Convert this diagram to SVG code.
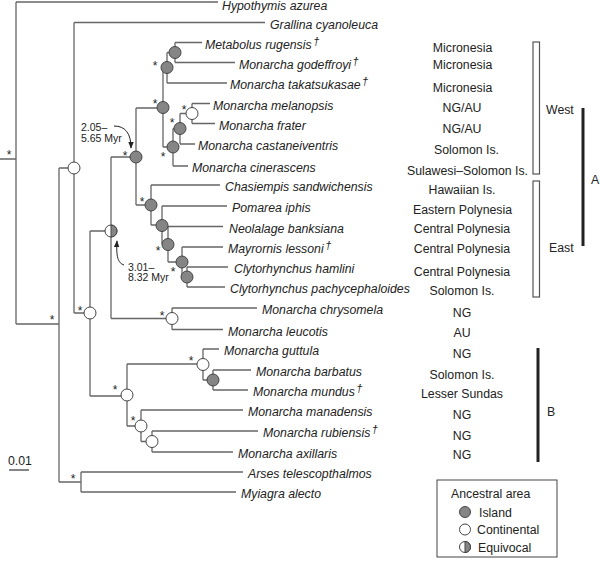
<svg xmlns="http://www.w3.org/2000/svg" width="600" height="561" viewBox="0 0 600 561">
<defs>
<style>
.br{fill:none;stroke:#666;stroke-width:1.3}
.sp{font-family:"Liberation Sans",Arial,sans-serif;font-size:12.3px;font-style:italic;fill:#222}
.rg{font-family:"Liberation Sans",Arial,sans-serif;font-size:12.3px;fill:#222;text-anchor:middle}
.lb{font-family:"Liberation Sans",Arial,sans-serif;font-size:12.3px;fill:#222}
.sm{font-family:"Liberation Sans",Arial,sans-serif;font-size:10.5px;fill:#222}
.st{font-family:"Liberation Sans",Arial,sans-serif;font-size:12px;fill:#222;text-anchor:middle}
.dg{font-size:11px}
.isl{fill:#858585;stroke:#444;stroke-width:1}
.con{fill:#fff;stroke:#444;stroke-width:1}
</style>
<marker id="ah" viewBox="0 0 10 10" refX="9" refY="5" markerWidth="7" markerHeight="7" orient="auto" markerUnits="userSpaceOnUse">
<path d="M0,1 L10,5 L0,9 z" fill="#222"/>
</marker>
</defs>
<rect width="600" height="561" fill="#fff"/>

<g id="connectors" class="br">
<path d="M0,159H16 M16,2V324 M16,2H218 M16,324H59 M59,168V482 M59,168H74 M59,482H81 M81,472V492 M81,472H243 M81,492H236"/>
<path d="M74,22.5V313 M74,22.5H265 M74,313H90 M90,231V396 M90,231H111 M90,396H127"/>
<path d="M111,157V318.5 M111,157H136 M111,318.5H172 M172,308V329.5 M172,308H257 M172,329.5H223"/>
<path d="M136,108V205 M136,108H163 M136,205H151"/>
<path d="M163,67.5V147 M163,67.5H167 M167,52.5V83 M167,52.5H175 M175,42.5V62.5 M175,42.5H202 M175,62.5H235 M167,83H227"/>
<path d="M163,147H173 M173,128.5V166 M173,128.5H180 M173,166H188 M180,113.5V144 M180,113.5H192 M180,144H195 M192,103.5V123.5 M192,103.5H210 M192,123.5H215"/>
<path d="M151,185V225 M151,185H220 M151,225H162 M162,206V244 M162,206H227 M162,244H168 M168,226.5V262 M168,226.5H223 M168,262H182 M182,247V277 M182,247H223 M182,277H187 M187,267V287 M187,267H228 M187,287H225"/>
<path d="M127,364V426 M127,364H203 M127,426H141 M203,349V380 M203,349H219 M203,380H213 M213,370V390 M213,370H251 M213,390H248 M141,410V441.5 M141,410H243 M141,441.5H152 M152,431V452 M152,431H258 M152,452H233"/>
</g>

<g id="nodes">
<g id="n-island-A"><circle class="isl" cx="175" cy="52.5" r="6"/></g>
<g id="n-island-B"><circle class="isl" cx="167" cy="67.5" r="6"/></g>
<g id="n-island-F"><circle class="isl" cx="163" cy="107.5" r="6"/></g>
<g id="n-cont-C"><circle class="con" cx="192" cy="113.5" r="6"/></g>
<g id="n-island-D"><circle class="isl" cx="180" cy="128.5" r="6"/></g>
<g id="n-island-E"><circle class="isl" cx="173" cy="147" r="6"/></g>
<g id="n-island-G"><circle class="isl" cx="136" cy="157" r="6"/></g>
<g id="n-island-H"><circle class="isl" cx="151" cy="205" r="6"/></g>
<g id="n-island-I"><circle class="isl" cx="162" cy="225.5" r="6"/></g>
<g id="n-island-J"><circle class="isl" cx="168" cy="244.5" r="6"/></g>
<g id="n-island-K"><circle class="isl" cx="182" cy="262" r="6"/></g>
<g id="n-island-L"><circle class="isl" cx="187" cy="277" r="6"/></g>
<g id="n-cont-74"><circle class="con" cx="74" cy="168" r="6"/></g>
<g id="n-cont-90"><circle class="con" cx="90" cy="313" r="6"/></g>
<g id="n-equiv"><circle class="con" cx="111" cy="231" r="6"/><path d="M111,225 A6,6 0 0 1 111,237 Z" fill="#858585" stroke="#444" stroke-width="1"/></g>
<g id="n-cont-chry"><circle class="con" cx="172" cy="318.5" r="6"/></g>
<g id="n-cont-M"><circle class="con" cx="127" cy="395" r="6"/></g>
<g id="n-cont-N"><circle class="con" cx="203" cy="364.5" r="6"/></g>
<g id="n-island-P"><circle class="isl" cx="213" cy="380" r="6"/></g>
<g id="n-cont-O"><circle class="con" cx="141" cy="426" r="6"/></g>
<g id="n-cont-Q"><circle class="con" cx="152" cy="441.5" r="6"/></g>
</g>

<g id="support">
<text class="st" x="9" y="159">*</text>
<text class="st" x="52" y="324">*</text>
<text class="st" x="80" y="315">*</text>
<text class="st" x="125" y="160">*</text>
<text class="st" x="155" y="70">*</text>
<text class="st" x="155" y="108">*</text>
<text class="st" x="184" y="114">*</text>
<text class="st" x="172" y="127">*</text>
<text class="st" x="163" y="161">*</text>
<text class="st" x="142" y="206">*</text>
<text class="st" x="158" y="255">*</text>
<text class="st" x="173" y="276">*</text>
<text class="st" x="162" y="320">*</text>
<text class="st" x="191" y="365">*</text>
<text class="st" x="115" y="394">*</text>
<text class="st" x="133" y="425">*</text>
<text class="st" x="73" y="483">*</text>
</g>

<g id="taxa">
<text class="sp" x="222" y="9.5">Hypothymis azurea</text>
<text class="sp" x="270" y="28.5">Grallina cyanoleuca</text>
<text class="sp" x="205" y="48.5">Metabolus rugensis<tspan class="dg" dx="1.5" dy="-4">†</tspan></text>
<text class="sp" x="239" y="68.5">Monarcha godeffroyi<tspan class="dg" dx="1.5" dy="-4">†</tspan></text>
<text class="sp" x="230" y="89">Monarcha takatsukasae<tspan class="dg" dx="1.5" dy="-4">†</tspan></text>
<text class="sp" x="213" y="109.5">Monarcha melanopsis</text>
<text class="sp" x="219" y="129.5">Monarcha frater</text>
<text class="sp" x="198" y="150">Monarcha castaneiventris</text>
<text class="sp" x="192" y="172">Monarcha cinerascens</text>
<text class="sp" x="225" y="191">Chasiempis sandwichensis</text>
<text class="sp" x="232" y="212">Pomarea iphis</text>
<text class="sp" x="229" y="232.5">Neolalage banksiana</text>
<text class="sp" x="228" y="253">Mayrornis lessoni<tspan class="dg" dx="1.5" dy="-4">†</tspan></text>
<text class="sp" x="234" y="273">Clytorhynchus hamlini</text>
<text class="sp" x="230" y="293">Clytorhynchus pachycephaloides</text>
<text class="sp" x="262" y="314">Monarcha chrysomela</text>
<text class="sp" x="228" y="335.5">Monarcha leucotis</text>
<text class="sp" x="224" y="355">Monarcha guttula</text>
<text class="sp" x="256" y="376">Monarcha barbatus</text>
<text class="sp" x="253" y="396">Monarcha mundus<tspan class="dg" dx="1.5" dy="-4">†</tspan></text>
<text class="sp" x="248" y="416">Monarcha manadensis</text>
<text class="sp" x="263" y="437">Monarcha rubiensis<tspan class="dg" dx="1.5" dy="-4">†</tspan></text>
<text class="sp" x="238" y="458">Monarcha axillaris</text>
<text class="sp" x="248" y="478">Arses telescopthalmos</text>
<text class="sp" x="241" y="498">Myiagra alecto</text>
</g>

<g id="regions">
<text class="rg" x="462.5" y="51.5">Micronesia</text>
<text class="rg" x="462.5" y="68.5">Micronesia</text>
<text class="rg" x="462.5" y="91.5">Micronesia</text>
<text class="rg" x="462" y="111.5">NG/AU</text>
<text class="rg" x="462" y="132.5">NG/AU</text>
<text class="rg" x="466.5" y="153.5">Solomon Is.</text>
<text class="rg" x="467.5" y="174.5">Sulawesi–Solomon Is.</text>
<text class="rg" x="462" y="193.5">Hawaiian Is.</text>
<text class="rg" x="462.5" y="213.5">Eastern Polynesia</text>
<text class="rg" x="462" y="232.5">Central Polynesia</text>
<text class="rg" x="462" y="252.5">Central Polynesia</text>
<text class="rg" x="462" y="275.5">Central Polynesia</text>
<text class="rg" x="462" y="294.5">Solomon Is.</text>
<text class="rg" x="462" y="316.5">NG</text>
<text class="rg" x="462" y="336.5">AU</text>
<text class="rg" x="462" y="357.5">NG</text>
<text class="rg" x="462" y="378.5">Solomon Is.</text>
<text class="rg" x="462" y="397.5">Lesser Sundas</text>
<text class="rg" x="462" y="418.5">NG</text>
<text class="rg" x="462" y="439.5">NG</text>
<text class="rg" x="462" y="458.5">NG</text>
</g>

<g id="clades">
<rect x="533" y="42" width="6.5" height="132" fill="#fff" stroke="#555" stroke-width="1.2"/>
<rect x="533" y="181" width="6.5" height="116" fill="#fff" stroke="#555" stroke-width="1.2"/>
<text class="lb" x="546" y="113.5">West</text>
<text class="lb" x="549" y="251.5">East</text>
<line x1="583" y1="108" x2="583" y2="246" stroke="#222" stroke-width="3"/>
<text class="lb" x="591" y="183.5">A</text>
<line x1="538" y1="348" x2="538" y2="462" stroke="#222" stroke-width="3"/>
<text class="lb" x="547" y="415.5">B</text>
</g>

<g id="dates">
<text class="sm" x="81" y="131">2.05–</text>
<text class="sm" x="81" y="141.5">5.65 Myr</text>
<path d="M114,126 C125,126 131,133 131,148" fill="none" stroke="#222" stroke-width="1" marker-end="url(#ah)"/>
<text class="sm" x="128" y="270.5">3.01–</text>
<text class="sm" x="128" y="281">8.32 Myr</text>
<path d="M124,265 C118,263 116,257 117,241" fill="none" stroke="#222" stroke-width="1" marker-end="url(#ah)"/>
</g>

<g id="scale">
<text class="lb" x="8" y="464.5">0.01</text>
<line x1="9" y1="470" x2="29" y2="470" stroke="#444" stroke-width="1.3"/>
</g>

<g id="legend">
<rect x="437" y="480" width="120" height="77" fill="#fff" stroke="#444" stroke-width="1"/>
<text class="lb" x="451" y="497.5">Ancestral area</text>
<circle class="isl" cx="465" cy="512" r="5.5"/>
<text class="lb" x="479" y="516.5">Island</text>
<circle class="con" cx="465" cy="529.5" r="5.5"/>
<text class="lb" x="477" y="534">Continental</text>
<circle class="con" cx="465" cy="547" r="5.5"/>
<path d="M465,541.5 A5.5,5.5 0 0 1 465,552.5 Z" fill="#858585" stroke="#444" stroke-width="1"/>
<text class="lb" x="478" y="551.5">Equivocal</text>
</g>
</svg>
